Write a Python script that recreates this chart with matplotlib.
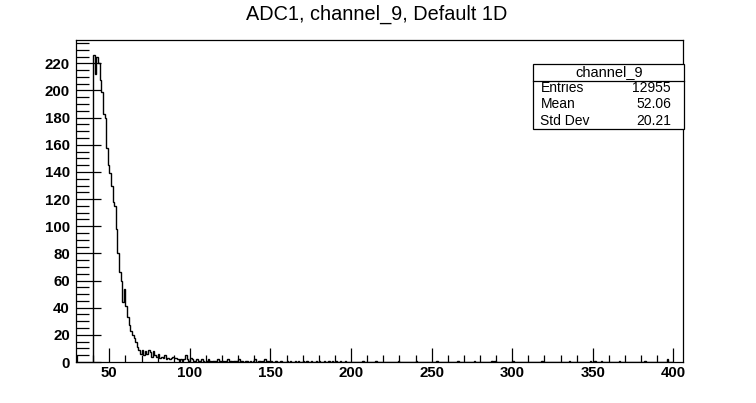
import numpy as np
import matplotlib.pyplot as plt
from matplotlib.ticker import MultipleLocator

plt.rcParams['font.family'] = ['Liberation Sans', 'DejaVu Sans']

# main peak, 1 ADC count per bin, starting at bin 40
peak_start = 40
peak_counts = [226, 212, 225, 220, 208, 199, 183, 180, 158, 145,
               139, 130, 118, 115, 98, 80, 66, 60, 44, 54,
               41, 33, 27, 23, 20, 18, 15, 11, 9, 6,
               9, 5, 8, 6, 9, 7, 4, 8, 5, 4,
               6, 3, 4, 3, 5, 2, 3, 2, 3, 4,
               3, 3, 2, 1, 2, 1, 2, 5, 2, 1, 3]

# sparse tail
tail_bins = [101, 102, 103, 104, 105, 106, 107, 108, 110, 111, 112, 114, 115,
             117, 118, 120, 122, 123, 125, 127, 128, 130, 132, 134, 135, 137,
             139, 140, 142, 143, 145, 146, 148, 150, 153, 156, 160, 162, 165,
             167, 170, 172, 175, 178, 180, 183, 186, 188, 190, 193, 196, 207,
             215, 229, 240, 253, 266, 276, 287, 289, 300, 318, 335, 348, 351,
             355, 366, 382, 396]
tail_counts = [2, 1, 1, 2, 1, 1, 2, 1, 1, 2, 1, 1, 1,
               2, 1, 1, 1, 2, 1, 1, 1, 2, 1, 1, 1, 1,
               1, 2, 1, 1, 1, 2, 1, 1, 1, 1, 1, 1, 1,
               1, 1, 1, 1, 1, 1, 1, 1, 1, 1, 1, 1, 1,
               1, 1, 1, 1, 1, 1, 1, 1, 1, 1, 1, 1, 1,
               1, 1, 1, 2]

stat_names = ['Entries', 'Mean', 'Std Dev']
stat_values = ['12955', '52.06', '20.21']

edges = np.arange(peak_start, 401)
counts = np.zeros(len(edges) - 1)
counts[:len(peak_counts)] = peak_counts
for b, c in zip(tail_bins, tail_counts):
    counts[b - peak_start] = c

fig = plt.figure(figsize=(7.56, 4.03), dpi=100)
ax = fig.add_axes([75.5/756, 1-362/403, (683-75.5)/756, (362-40)/403])
ax.stairs(counts, edges, color='black', lw=1.0, baseline=0)

ax.set_xlim(29, 406)
ax.set_ylim(0, 237.2)
ax.xaxis.set_major_locator(MultipleLocator(50))
ax.xaxis.set_minor_locator(MultipleLocator(10))
ax.yaxis.set_major_locator(MultipleLocator(20))
ax.yaxis.set_minor_locator(MultipleLocator(5))
ax.tick_params(axis='both', which='both', direction='in', top=False, right=False,
               width=0.9, color='black')
ax.tick_params(axis='y', which='major', length=18, pad=4)
ax.tick_params(axis='y', which='minor', length=9)
ax.tick_params(axis='x', which='major', length=10, pad=3)
ax.tick_params(axis='x', which='minor', length=5)
for lab in ax.get_xticklabels() + ax.get_yticklabels():
    lab.set_fontweight('bold')
    lab.set_fontsize(10.8)
for s in ax.spines.values():
    s.set_linewidth(0.9)

fig.text(377/756, 1-14.5/403, 'ADC1, channel_9, Default 1D', ha='center', va='center', fontsize=14.3)

# stats box
bx0, bx1 = 532.7/756, 684/756
by0, by1 = 1-129/403, 1-64.3/403
box = plt.Rectangle((bx0, by0), bx1-bx0, by1-by0, transform=fig.transFigure,
                    facecolor='white', edgecolor='black', lw=0.9, zorder=5)
fig.add_artist(box)
sep = 1-81/403
fig.add_artist(plt.Line2D([bx0, bx1], [sep, sep], transform=fig.transFigure,
                          color='black', lw=0.9, zorder=6))
fig.text(609/756, 1-72.5/403, 'channel_9', ha='center', va='center', fontsize=10.5, zorder=7)
rows_y = [88.3, 104.5, 120.7]
for name, val, yy in zip(stat_names, stat_values, rows_y):
    fig.text(540.5/756, 1-yy/403, name, ha='left', va='center', fontsize=10, zorder=7)
    fig.text(671/756, 1-yy/403, val, ha='right', va='center', fontsize=10, zorder=7)

fig.savefig('out.png', dpi=100)
